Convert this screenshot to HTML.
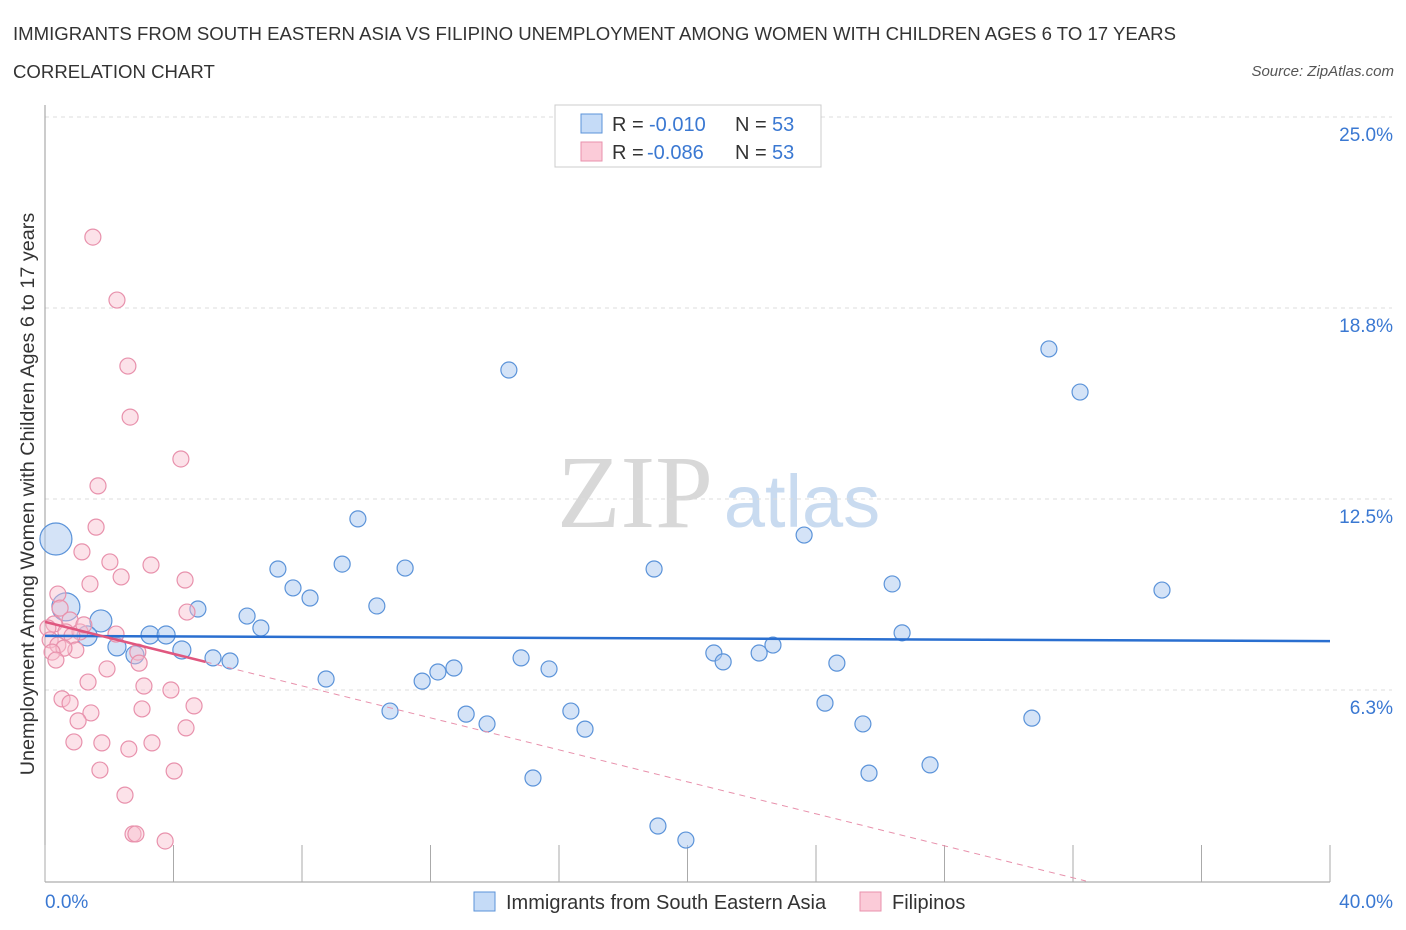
<!DOCTYPE html>
<html><head><meta charset="utf-8"><style>
body{margin:0;background:#fff;font-family:"Liberation Sans",sans-serif;}
#wrap{position:relative;width:1406px;height:930px;overflow:hidden}
</style></head><body>
<div id="wrap">
<svg id="svg" width="1406" height="930" xmlns="http://www.w3.org/2000/svg">
<text x="13" y="40" font-size="18.6" fill="#333">IMMIGRANTS FROM SOUTH EASTERN ASIA VS FILIPINO UNEMPLOYMENT AMONG WOMEN WITH CHILDREN AGES 6 TO 17 YEARS</text>
<text x="13" y="78" font-size="18.6" fill="#333">CORRELATION CHART</text>
<text x="1394" y="76" font-size="15" fill="#555" font-style="italic" text-anchor="end">Source: ZipAtlas.com</text>
<text x="635" y="527" font-size="104" fill="#d8d8d8" font-family="Liberation Serif,serif" text-anchor="middle">ZIP</text>
<text x="802" y="527" font-size="74" fill="#c9dbf0" text-anchor="middle">atlas</text>
<text transform="translate(34,494) rotate(-90)" font-size="19.8" fill="#333" text-anchor="middle">Unemployment Among Women with Children Ages 6 to 17 years</text>
<g id="grid"></g><g id="axes"></g><g id="marks"></g><g id="lines"></g>
<g>
<rect x="555" y="105" width="266" height="62" fill="#fff" stroke="#ccc"/>
<rect x="581" y="114" width="21" height="19" fill="#c5dbf7" stroke="#5b93d9"/>
<rect x="581" y="142" width="21" height="19" fill="#fbcbd8" stroke="#e891ac"/>
<text x="612" y="131" font-size="20" fill="#333">R = <tspan x="649" fill="#3a78d2">-0.010</tspan><tspan x="735">N = </tspan><tspan x="772" fill="#3a78d2">53</tspan></text>
<text x="612" y="159" font-size="20" fill="#333">R = <tspan x="647" fill="#3a78d2">-0.086</tspan><tspan x="735">N = </tspan><tspan x="772" fill="#3a78d2">53</tspan></text>
</g>
<g>
<rect x="474" y="892" width="21" height="19" fill="#c5dbf7" stroke="#5b93d9"/>
<text x="506" y="909" font-size="20" fill="#333">Immigrants from South Eastern Asia</text>
<rect x="860" y="892" width="21" height="19" fill="#fbcbd8" stroke="#e891ac"/>
<text x="892" y="909" font-size="20" fill="#333">Filipinos</text>
</g>
</svg>
</div>
<script>
const blueX=[0.34,0.65,1.74,1.31,2.24,3.27,3.77,2.80,4.26,4.76,5.23,5.76,6.29,6.72,7.25,7.72,8.25,8.75,9.25,9.74,10.33,10.74,11.21,11.74,12.23,12.73,13.11,13.76,14.44,14.82,15.19,15.69,16.37,16.81,18.96,19.08,19.95,20.82,21.11,22.23,22.66,23.63,24.28,24.65,25.46,25.65,26.37,26.68,27.55,30.72,31.25,32.22,34.77];
const blueY=[11.19,8.97,8.51,8.02,7.66,8.05,8.05,7.40,7.56,8.90,7.30,7.20,8.67,8.28,10.21,9.59,9.26,6.61,10.37,11.85,9.00,5.56,10.24,6.54,6.84,6.97,5.46,5.14,16.72,7.30,3.37,6.94,5.56,4.97,10.21,1.80,1.34,7.46,7.17,7.46,7.72,11.32,5.82,7.13,5.14,3.53,9.72,8.12,3.80,5.33,17.41,16.00,9.52];
const blueR=[16,14,11,10,9,9,9,9,9,8,8,8,8,8,8,8,8,8,8,8,8,8,8,8,8,8,8,8,8,8,8,8,8,8,8,8,8,8,8,8,8,8,8,8,8,8,8,8,8,8,8,8,8];
const pinkX=[1.49,2.24,2.58,2.65,4.23,1.65,1.59,1.15,2.02,3.30,2.37,4.36,1.40,0.40,0.47,4.42,0.78,0.28,0.09,0.65,1.09,1.21,0.84,0.16,0.40,0.96,0.59,0.22,2.89,0.34,1.93,2.93,1.34,3.08,0.53,3.92,0.78,4.64,1.43,3.02,1.03,4.39,0.90,1.77,2.61,3.33,1.71,4.02,2.49,2.74,2.83,3.74,2.21];
const pinkY=[21.07,19.01,16.85,15.18,13.81,12.93,11.58,10.77,10.44,10.34,9.95,9.85,9.72,9.39,8.93,8.80,8.54,8.41,8.28,8.15,8.15,8.38,8.02,7.89,7.72,7.56,7.62,7.49,7.49,7.23,6.94,7.13,6.51,6.38,5.96,6.25,5.82,5.73,5.50,5.63,5.24,5.01,4.55,4.52,4.32,4.52,3.63,3.60,2.81,1.54,1.54,1.31,8.08];
const yTicks=[6.25,12.5,18.75,25];
const yTickLabels=["6.3%","12.5%","18.8%","25.0%"];
const xTicks=[0,4,8,12,16,20,24,28,32,36,40];
const blueTrend=[8.02,7.85];
const pinkTrend=[8.48,7.17,0];
const pinkTrendX=[0,5,32.4];

const X=v=>45+v/40*1285, Y=v=>881-v/6.25*191;
const NS="http://www.w3.org/2000/svg";
function mk(p,tag,at){const e=document.createElementNS(NS,tag);for(const k in at)e.setAttribute(k,at[k]);p.appendChild(e);return e;}
const grid=document.getElementById('grid'),axes=document.getElementById('axes'),marks=document.getElementById('marks'),lines=document.getElementById('lines');
yTicks.forEach((t,i)=>{
 const g=mk(grid,'line',{x1:45,x2:1392,y1:Y(t),y2:Y(t),stroke:'#ddd','stroke-dasharray':'4 4'});
 
 
 const tx=mk(axes,'text',{x:1393,y:Y(t)+24,'font-size':19,fill:'#3a78d2','text-anchor':'end'});
 tx.textContent=yTickLabels[i];
 
 
});
const yax=mk(axes,'line',{x1:45,x2:45,y1:105,y2:882,stroke:'#999'});


const xax=mk(axes,'line',{x1:45,x2:1330,y1:882,y2:882,stroke:'#999'});


xTicks.forEach(t=>{const l=mk(axes,'line',{x1:X(t),x2:X(t),y1:845,y2:882,stroke:'#aaa'});
 
 });
[[0,"0.0%",'start',45],[40,"40.0%",'end',1393]].forEach(a=>{const t=mk(axes,'text',{x:a[3],y:908,'font-size':19,fill:'#3a78d2','text-anchor':a[2]});t.textContent=a[1];
 
 });
blueX.forEach((v,i)=>{const c=mk(marks,'circle',{cx:X(v),cy:Y(blueY[i]),r:blueR[i],fill:'rgba(170,200,240,0.5)',stroke:'#5b93d9','stroke-width':1.2});
 
 });
pinkX.forEach((v,i)=>{const c=mk(marks,'circle',{cx:X(v),cy:Y(pinkY[i]),r:8,fill:'rgba(248,190,206,0.45)',stroke:'#e891ac','stroke-width':1.2});
 
 });
const bl=mk(lines,'line',{x1:X(0),y1:Y(blueTrend[0]),x2:X(40),y2:Y(blueTrend[1]),stroke:'#2a6fd0','stroke-width':2.5});


const pl=mk(lines,'line',{x1:X(pinkTrendX[0]),y1:Y(pinkTrend[0]),x2:X(pinkTrendX[1]),y2:Y(pinkTrend[1]),stroke:'#e0577f','stroke-width':2.5});


const pd=mk(lines,'line',{x1:X(pinkTrendX[1]),y1:Y(pinkTrend[1]),x2:X(pinkTrendX[2]),y2:Y(pinkTrend[2]),stroke:'#e891ac','stroke-width':1,'stroke-dasharray':'6 5'});


</script>
</body></html>
